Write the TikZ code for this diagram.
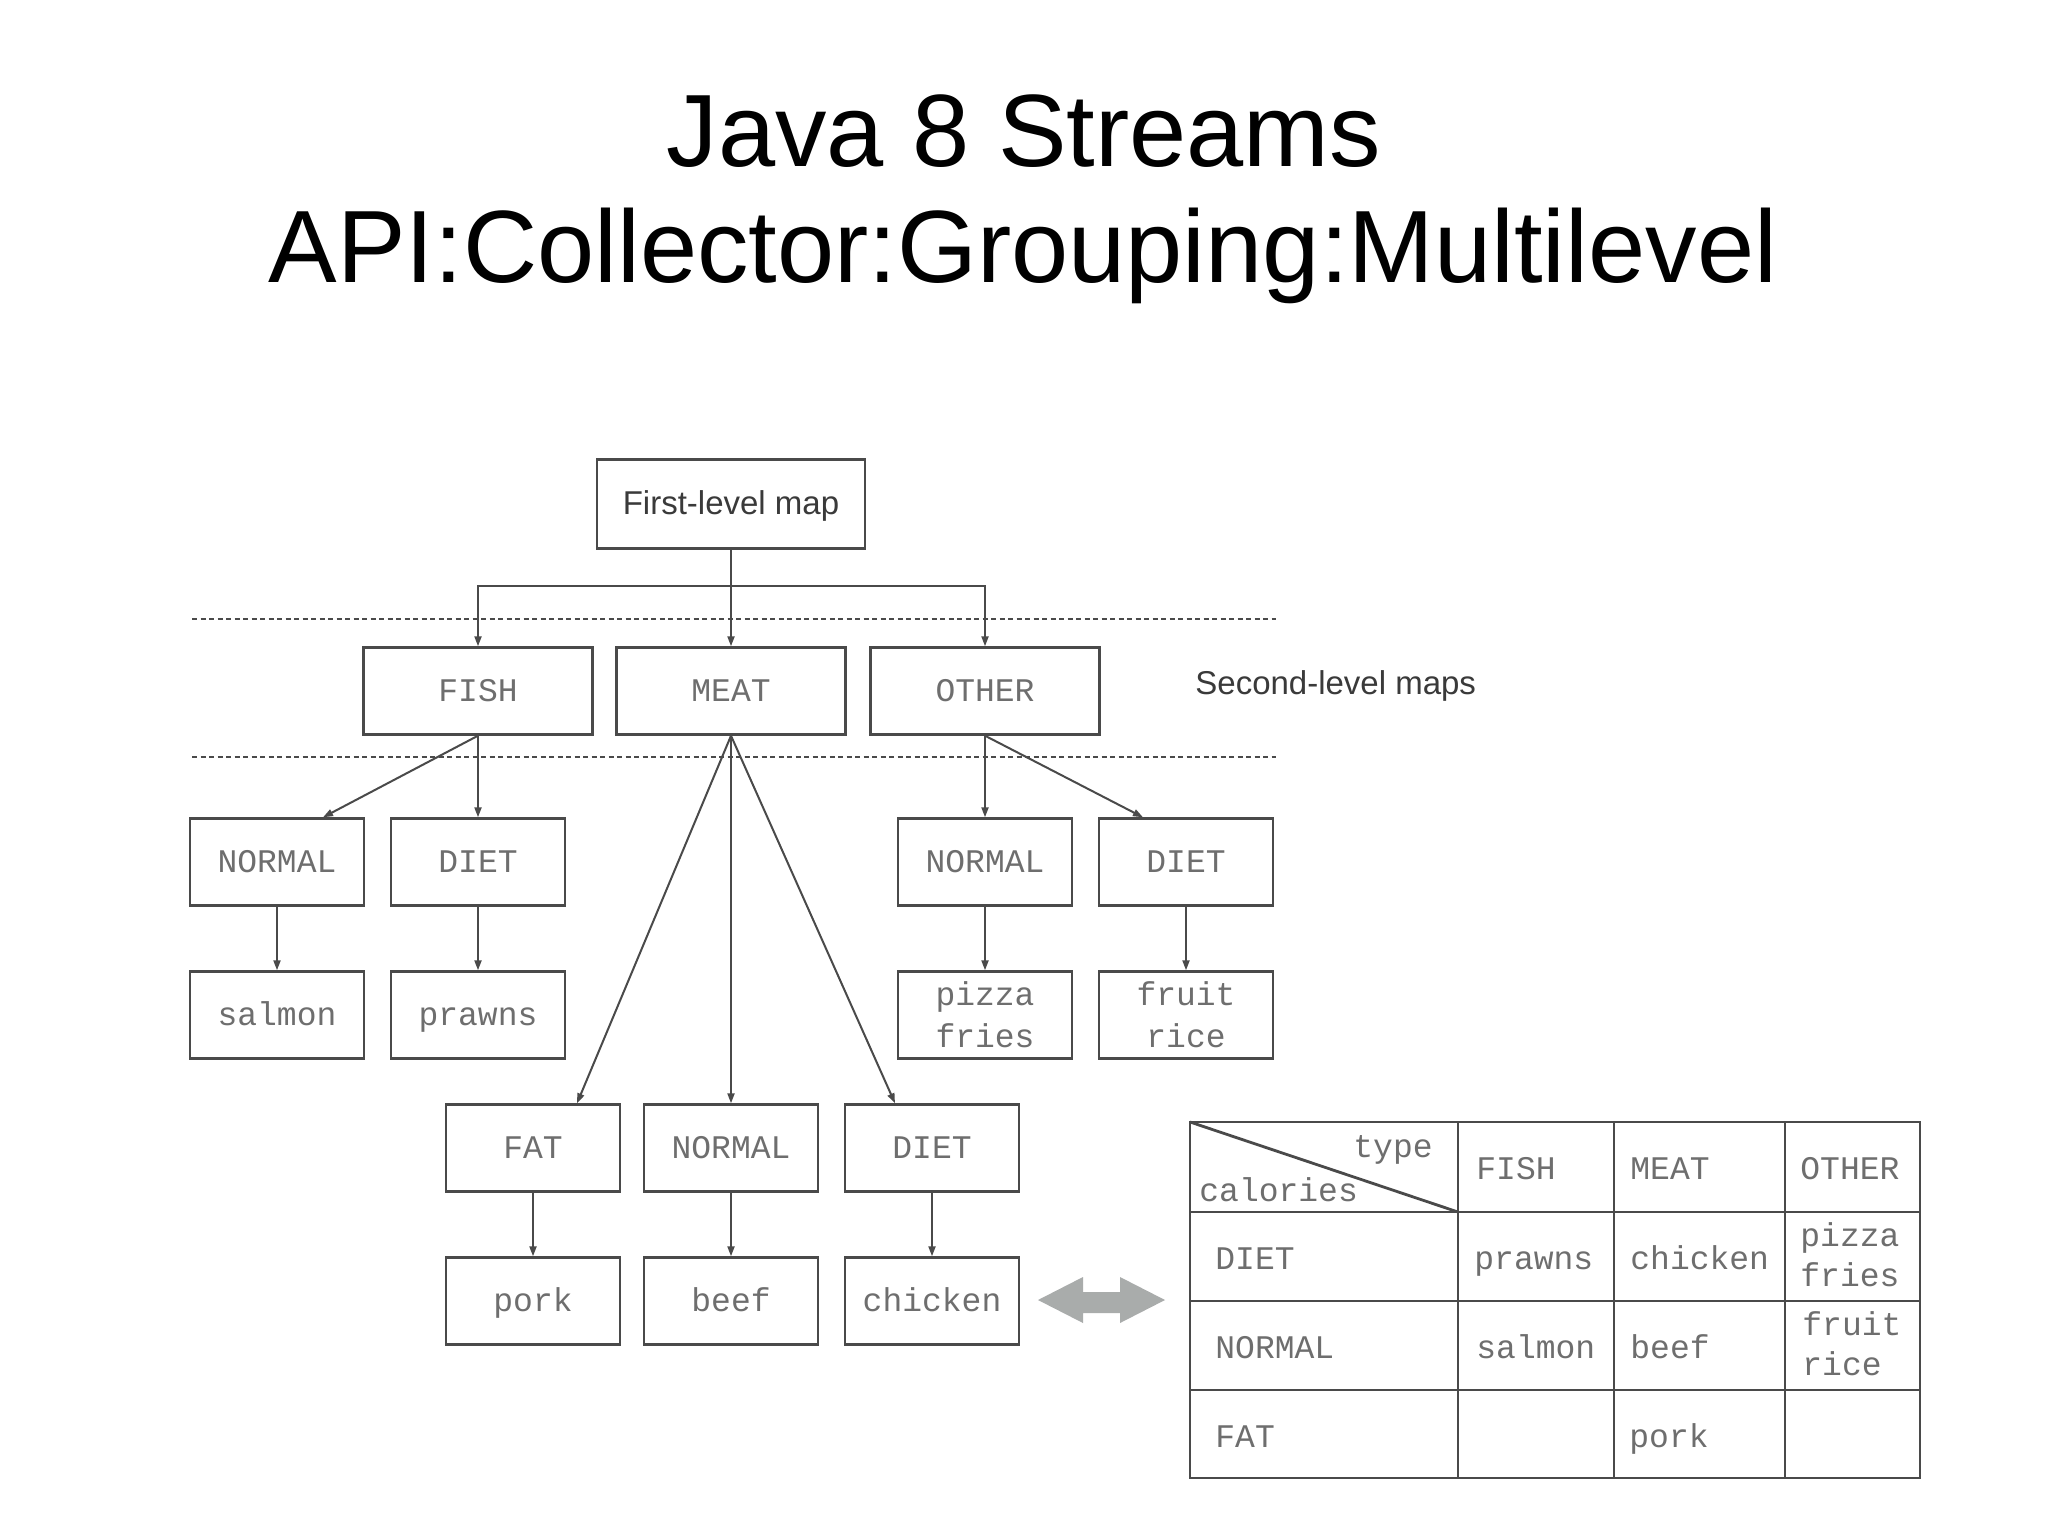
\documentclass[tikz,border=0pt]{standalone}
\usepackage{fontspec}
\setmainfont{Liberation Sans}
\newfontfamily\boxmono{Liberation Mono}
\usetikzlibrary{calc,arrows.meta}
\definecolor{linegray}{HTML}{4A4A4A}
\definecolor{textgray}{HTML}{6E6E6E}
\definecolor{arrowgray}{HTML}{A9ACAB}
\definecolor{labelgray}{HTML}{3A3A3A}
\begin{document}
\begin{tikzpicture}[x=0.5pt,y=-0.5pt,
  boxbase/.style={draw=linegray, line width=1.2pt, minimum width=87pt, minimum height=43.5pt, inner sep=0pt,
    font=\boxmono\fontsize{16.5}{21}\selectfont, text=textgray, align=center},
  box/.style={boxbase, text height=13pt, text depth=2.2pt},
  box2/.style={boxbase},
  wide/.style={box, minimum width=114.5pt},
  arr/.style={draw=linegray, line width=1pt, -{Triangle[length=5pt,width=3.5pt]}},
  sep/.style={draw=linegray, line width=1pt, dash pattern=on 2.5pt off 1.75pt},
  cellbase/.style={font=\boxmono\fontsize{16.5}{20}\selectfont, text=textgray, anchor=west, inner sep=0pt, align=left},
  cell/.style={cellbase, text height=13pt, text depth=2.2pt},
  cell2/.style={cellbase},
  grid/.style={draw=linegray, line width=1.4pt},
  title/.style={font=\fontsize{51.4}{60}\selectfont, text=black, anchor=base, inner sep=0pt},
  label/.style={font=\fontsize{16.5}{20}\selectfont, text=labelgray, inner sep=0pt}
]
\fill[white] (0,0) rectangle (2048,1535);
\path[use as bounding box] (0,0) rectangle (2048,1535);

% title
\node[title] (t1) at (1024,167) {Java 8 Streams};
\node[title] (t2) at (1023,283) {API:Collector:Grouping:Multilevel};

% separators
\draw[sep] (192,619) -- (1276,619);
\draw[sep] (192,757) -- (1276,757);

% tree
\node[box, minimum width=134pt, minimum height=44.5pt, font=\fontsize{16.5}{20}\selectfont, text=labelgray] (first) at (731,504) {First-level map};

\node[wide] (fish)  at (478,691) {FISH};
\node[wide] (meat)  at (731,691) {MEAT};
\node[wide] (other) at (985,691) {OTHER};
\node[label, anchor=west] (slm) at (1195,686) {Second-level maps};

\node[box] (fnormal) at (277,862) {NORMAL};
\node[box] (fdiet)   at (478,862) {DIET};
\node[box] (onormal) at (985,862) {NORMAL};
\node[box] (odiet)   at (1186,862) {DIET};

\node[box] (salmon) at (277,1015) {salmon};
\node[box] (prawns) at (478,1015) {prawns};
\node[box2] (pizza)  at (985,1015) {pizza\\fries};
\node[box2] (fruit)  at (1186,1015) {fruit\\rice};

\node[box] (fat)     at (533,1148) {FAT};
\node[box] (mnormal) at (731,1148) {NORMAL};
\node[box] (mdiet)   at (932,1148) {DIET};

\node[box] (pork)    at (533,1301) {pork};
\node[box] (beef)    at (731,1301) {beef};
\node[box] (chicken) at (932,1301) {chicken};

% connectors
\coordinate (bus) at (731,586);
\draw[arr] (first.south) -- (meat.north);
\draw[arr] (bus) -| (fish.north);
\draw[arr] (bus) -| (other.north);

\draw[arr] (fish.south) -- ($(fnormal.north)+(46,0)$);
\draw[arr] (fish.south) -- (fdiet.north);
\draw[arr] (other.south) -- (onormal.north);
\draw[arr] (other.south) -- ($(odiet.north)+(-43,0)$);

\draw[arr] (fnormal.south) -- (salmon.north);
\draw[arr] (fdiet.south) -- (prawns.north);
\draw[arr] (onormal.south) -- (pizza.north);
\draw[arr] (odiet.south) -- (fruit.north);

\draw[arr] (meat.south) -- ($(fat.north)+(44,0)$);
\draw[arr] (meat.south) -- (mnormal.north);
\draw[arr] (meat.south) -- ($(mdiet.north)+(-37,0)$);

\draw[arr] (fat.south) -- (pork.north);
\draw[arr] (mnormal.south) -- (beef.north);
\draw[arr] (mdiet.south) -- (chicken.north);

% double arrow
\fill[arrowgray] (1038,1300) -- (1083,1277) -- (1083,1292) -- (1120,1292) -- (1120,1277)
  -- (1165,1300) -- (1120,1323) -- (1120,1313) -- (1083,1313) -- (1083,1323) -- cycle;

% table
\draw[grid] (1190,1122) rectangle (1920,1478);
\draw[grid] (1458,1122) -- (1458,1478);
\draw[grid] (1614,1122) -- (1614,1478);
\draw[grid] (1785,1122) -- (1785,1478);
\draw[grid] (1190,1212) -- (1920,1212);
\draw[grid] (1190,1301) -- (1920,1301);
\draw[grid] (1190,1390) -- (1920,1390);
\draw[grid] (1190,1122) -- (1458,1212);

\node[cell, anchor=east] (ctype) at (1433,1147) {type};
\node[cell] (ccal) at (1199,1191) {calories};
\node[cell] (hfish) at (1476,1169) {FISH};
\node[cell] (hmeat) at (1630,1169) {MEAT};
\node[cell] (hother) at (1800,1169) {OTHER};

\node[cell] (rdiet) at (1215,1259) {DIET};
\node[cell] (rnormal) at (1215,1348) {NORMAL};
\node[cell] (rfat) at (1215,1437) {FAT};

\node[cell] (cprawns) at (1474,1259) {prawns};
\node[cell] (cchicken) at (1630,1259) {chicken};
\node[cell2] (cpizza) at (1800,1255) {pizza\\fries};
\node[cell] (csalmon) at (1476,1348) {salmon};
\node[cell] (cbeef) at (1630,1348) {beef};
\node[cell2] (cfruit) at (1802,1344) {fruit\\rice};
\node[cell] (cpork) at (1629,1437) {pork};
\end{tikzpicture}
\end{document}
